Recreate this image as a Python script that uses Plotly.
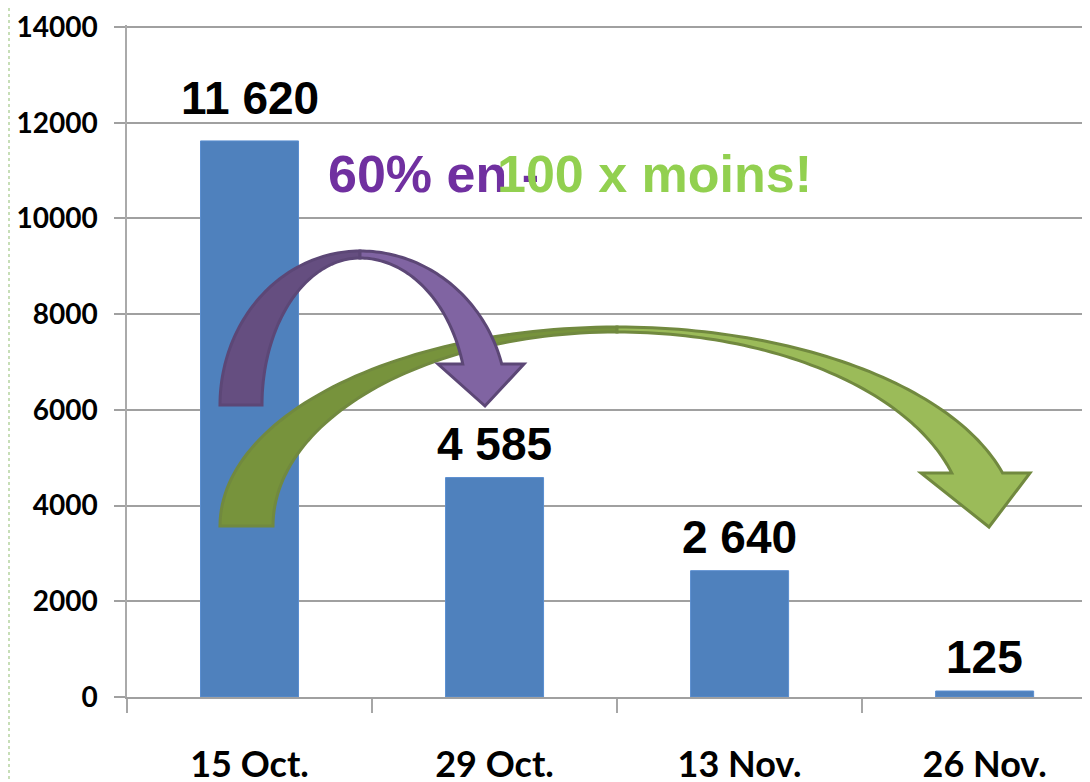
import numpy as np
import plotly.graph_objects as go

# ---- data ----
categories = ["15 Oct.", "29 Oct.", "13 Nov.", "26 Nov."]
values = [11620, 4585, 2640, 125]
y_tick_vals = [0, 2000, 4000, 6000, 8000, 10000, 12000, 14000]
y_tick_text = [str(v) for v in y_tick_vals]
label_purple = "60% en -"
label_green = "100 x moins!"

# ---- layout geometry (pixels, in the 1090x782 page) ----
OFF = 8  # page body margin
FW, FH = 1090 - OFF, 782 - OFF
L, T, R, Bm = 127 - OFF, 25 - OFF, 0, 85
PW = FW - L - R
PH = FH - T - Bm
BOTTOM = FH - Bm
XR = [-0.5, 3.43]
YMAX = 14000
YR = [0, YMAX * 1.003]


def px(x):  # page pixel x -> paper
    return (x - OFF - L) / PW


def py(y):  # page pixel y -> paper
    return (BOTTOM - (y - OFF)) / PH


def path_from(points):
    s = "M " + " L ".join(f"{px(x):.5f},{py(y):.5f}" for x, y in points)
    return s + " Z"


def curved_arrow(cx, cy, ro_l, ri_l, ro_r, ri_r, ry_o, ry_i, yb, head_l, head_r, tip_x, tip_y):
    n = 60
    left = []
    for t in np.linspace(np.pi, np.pi / 2, n):
        left.append((cx + ro_l * np.cos(t), cy - ry_o * np.sin(t)))
    for t in np.linspace(np.pi / 2, np.pi, n):
        left.append((cx + ri_l * np.cos(t), cy - ry_i * np.sin(t)))
    to = np.arcsin((cy - yb) / ry_o)
    ti = np.arcsin((cy - yb) / ry_i)
    right = []
    for t in np.linspace(np.pi / 2, to, n):
        right.append((cx + ro_r * np.cos(t), cy - ry_o * np.sin(t)))
    right.append((head_r, yb))
    right.append((tip_x, tip_y))
    right.append((head_l, yb))
    for t in np.linspace(ti, np.pi / 2, n):
        right.append((cx + ri_r * np.cos(t), cy - ry_i * np.sin(t)))
    return path_from(left), path_from(right)


fig = go.Figure()
fig.add_trace(go.Bar(
    x=categories, y=values, width=0.4,
    marker=dict(color="#4F81BD", line=dict(color="#5A8ED0", width=1)),
    hoverinfo="skip",
))

shapes = []
# green arrow (behind purple)
gl, gr = curved_arrow(617, 526, 397, 344, 400, 348, 199, 194, 473, 921, 1030, 989, 527)
shapes.append(dict(type="path", xref="paper", yref="paper", path=gl, fillcolor="#77933C",
                   line=dict(color="#71893F", width=3), layer="above"))
shapes.append(dict(type="path", xref="paper", yref="paper", path=gr, fillcolor="#9BBB59",
                   line=dict(color="#71893F", width=3), layer="above"))
# purple arrow
pl, pr = curved_arrow(360, 405, 140, 98, 147, 107, 154, 147, 364, 438, 524, 485, 406)
shapes.append(dict(type="path", xref="paper", yref="paper", path=pl, fillcolor="#654E80",
                   line=dict(color="#5C4776", width=3), layer="above"))
shapes.append(dict(type="path", xref="paper", yref="paper", path=pr, fillcolor="#8064A2",
                   line=dict(color="#5C4776", width=3), layer="above"))
# dotted left border
shapes.append(dict(type="line", xref="paper", yref="paper", x0=px(9), x1=px(9),
                   y0=py(OFF), y1=py(782), line=dict(color="#B5D3A0", width=1.5, dash="dot")))

label_extra_shift = {0: 9}
annotations = []
for i, (c, v) in enumerate(zip(categories, values)):
    annotations.append(dict(
        x=c, y=v, xref="x", yref="y", text=f"{v:,}".replace(",", " "),
        showarrow=False, yanchor="bottom", yshift=6 + label_extra_shift.get(i, 0),
        font=dict(family="Liberation Sans, Arial", size=46, color="black", weight="bold"),
    ))
annotations.append(dict(
    x=px(326), y=py(174), xref="paper", yref="paper", text=label_purple,
    showarrow=False, xanchor="left", yanchor="middle",
    font=dict(family="Liberation Sans, Arial", size=52, color="#7030A0", weight="bold"),
))
annotations.append(dict(
    x=px(495), y=py(174), xref="paper", yref="paper", text=label_green,
    showarrow=False, xanchor="left", yanchor="middle",
    font=dict(family="Liberation Sans, Arial", size=52, color="#92D050", weight="bold"),
))

fig.update_layout(
    width=FW, height=FH,
    margin=dict(l=L, r=R, t=T, b=Bm, pad=0, autoexpand=False),
    paper_bgcolor="white", plot_bgcolor="white",
    showlegend=False,
    shapes=shapes, annotations=annotations,
    xaxis=dict(
        type="category", range=XR, showgrid=False, showline=True, automargin=False,
        linecolor="#A0A0A0", linewidth=2, ticks="outside", tickson="boundaries",
        ticklen=14, tickwidth=2, tickcolor="#A6A6A6", ticklabelstandoff=35,
        tickfont=dict(family="Lato", size=36, color="black", weight="bold"),
    ),
    yaxis=dict(
        range=YR, tickvals=y_tick_vals, ticktext=y_tick_text, automargin=False,
        showgrid=True, gridcolor="#A0A0A0", gridwidth=2, zeroline=False,
        showline=True, linecolor="#AAAAAA", linewidth=1.5,
        ticks="outside", ticklen=11, tickwidth=2, tickcolor="#A0A0A0",
        ticklabelstandoff=11, ticklabeloverflow="allow",
        tickfont=dict(family="Lato", size=28, color="black", weight="bold"),
    ),
)

fig.write_html("out.html")
